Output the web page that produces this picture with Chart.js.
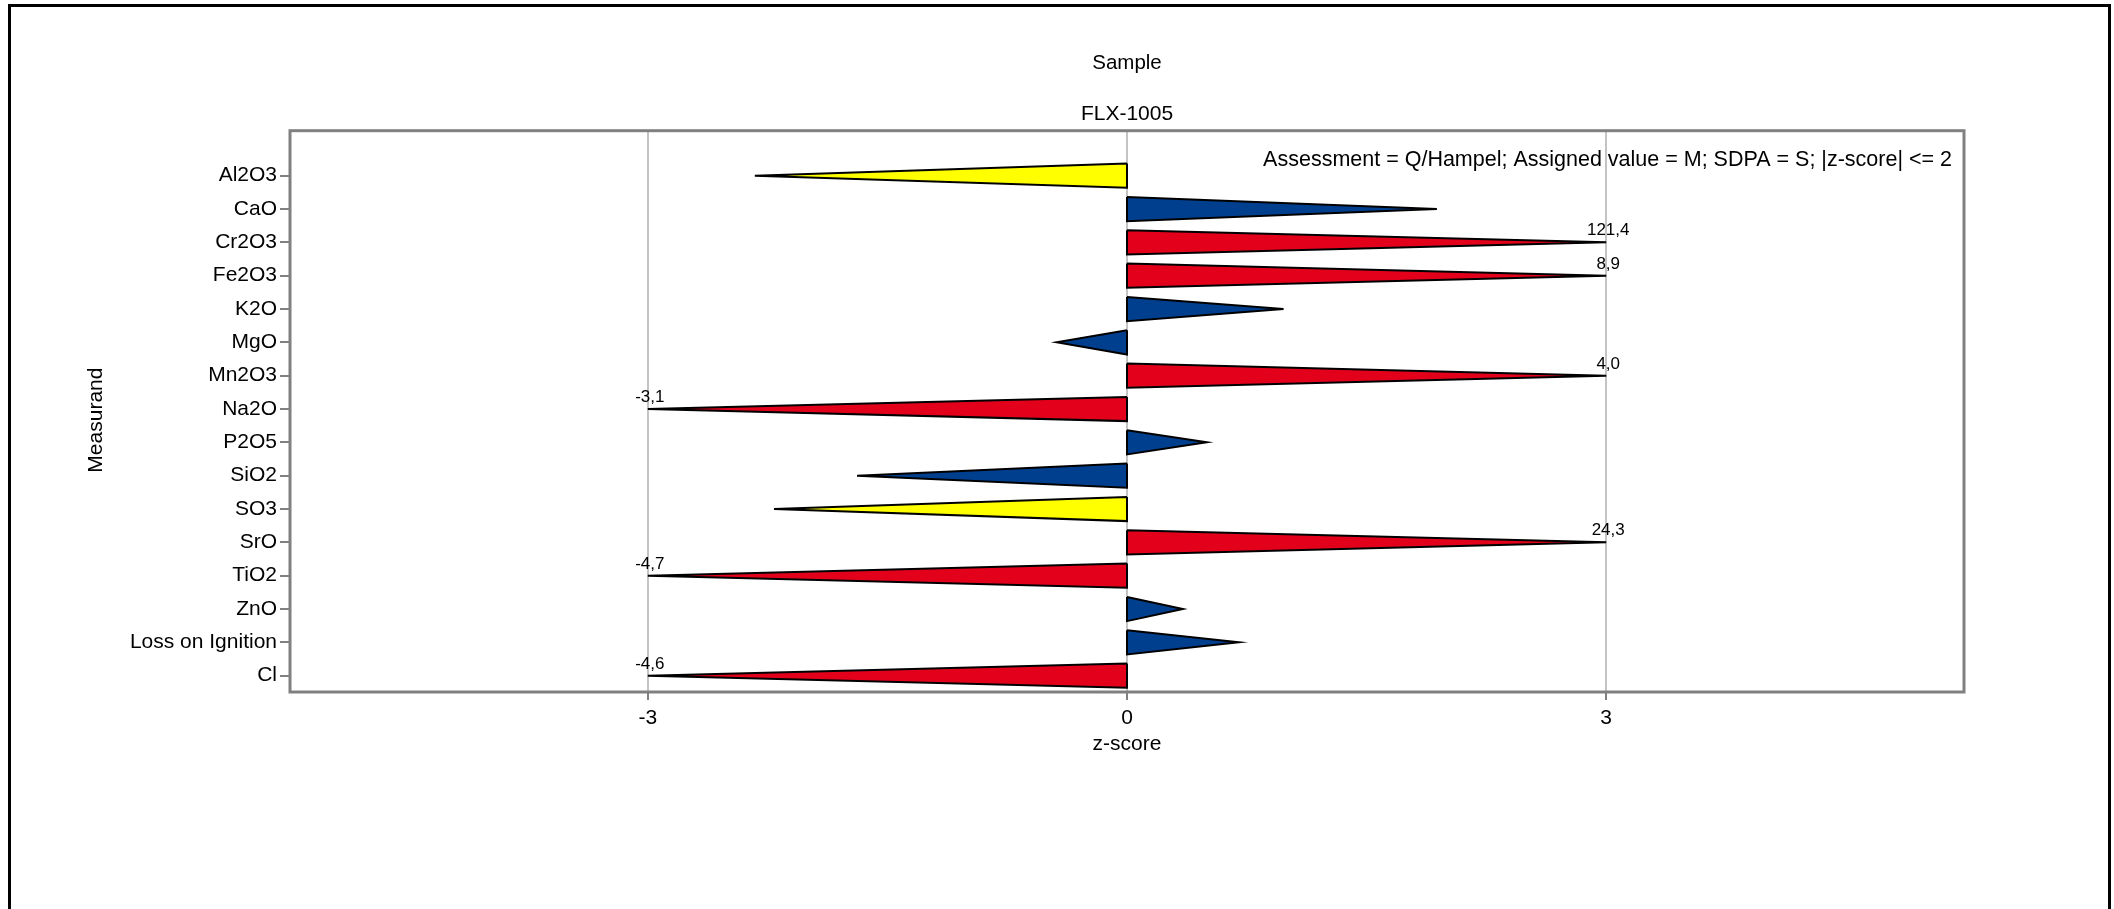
<!DOCTYPE html>
<html>
<head>
<meta charset="utf-8">
<script src="https://cdn.jsdelivr.net/npm/chart.js@4.4.0/dist/chart.umd.min.js"></script>
<style>
  html, body { margin: 0; padding: 0; background: #fff; overflow: hidden; }
  #frame { position: absolute; left: 8px; top: 4px; width: 2103px; height: 1000px; border: 3px solid #000; box-sizing: border-box; }
  #wrap { position: absolute; left: 0; top: 0; width: 2114px; height: 909px; }
</style>
</head>
<body>
<div id="frame"></div>
<div id="wrap"><canvas id="zChart" width="2114" height="909"></canvas></div>
<script>
// z-scores per measurand, sample FLX-1005
const measurands = ['Al2O3', 'CaO', 'Cr2O3', 'Fe2O3', 'K2O', 'MgO', 'Mn2O3', 'Na2O',
    'P2O5', 'SiO2', 'SO3', 'SrO', 'TiO2', 'ZnO', 'Loss on Ignition', 'Cl'];
const zScores = [-2.33, 1.94, 121.4, 8.9, 0.98, -0.44, 4.0, -3.1,
    0.50, -1.69, -2.21, 24.3, -4.7, 0.35, 0.70, -4.6];
const xTicks = [-3, 0, 3];
const zLimit = 3;      // bars beyond this are cut at the limit and labelled
const halfHeight = 0.363;

const fontFamily = '"Liberation Sans", Arial, sans-serif';
Chart.defaults.font.family = fontFamily;
Chart.defaults.font.size = 21;
Chart.defaults.color = '#000';

function zColor(z) {
    const a = Math.abs(z);
    if (a <= 2) return '#003f8e';
    if (a <= 3) return '#ffff00';
    return '#e2001a';
}

// one closed triangle per measurand, base on zero, tip at the (capped) z-score
const datasets = measurands.map((name, i) => {
    const v = Math.max(-zLimit, Math.min(zLimit, zScores[i]));
    return {
        label: name,
        data: [
            { x: 0, y: i - halfHeight },
            { x: v, y: i },
            { x: 0, y: i + halfHeight },
            { x: 0, y: i - halfHeight }
        ],
        showLine: true,
        fill: 'shape',
        backgroundColor: zColor(zScores[i]),
        borderColor: '#000',
        borderWidth: 2,
        pointRadius: 0,
        tension: 0
    };
});

const extrasPlugin = {
    id: 'extras',
    afterDraw(chart) {
        const { ctx, chartArea, scales: { x, y } } = chart;
        ctx.save();
        // value labels on the cut-off bars
        ctx.font = '17px ' + fontFamily;
        ctx.fillStyle = '#000';
        ctx.textAlign = 'center';
        ctx.textBaseline = 'alphabetic';
        zScores.forEach((z, i) => {
            if (Math.abs(z) <= zLimit) return;
            const v = z > 0 ? zLimit : -zLimit;
            ctx.fillText(z.toFixed(1).replace('.', ','), x.getPixelForValue(v) + 2, y.getPixelForValue(i) - 7);
        });
        // plot frame
        ctx.strokeStyle = '#808080';
        ctx.lineWidth = 3;
        ctx.strokeRect(chartArea.left, chartArea.top, chartArea.right - chartArea.left, chartArea.bottom - chartArea.top);
        // assessment note
        ctx.font = '21.5px ' + fontFamily;
        ctx.textAlign = 'right';
        ctx.fillText('Assessment = Q/Hampel; Assigned value = M; SDPA = S; |z-score| <= 2',
            chartArea.right - 12, chartArea.top + 35);
        ctx.restore();
    }
};

new Chart(document.getElementById('zChart'), {
    type: 'scatter',
    data: { datasets },
    plugins: [extrasPlugin],
    options: {
        responsive: false,
        animation: false,
        layout: { padding: { left: 0, right: 150, top: 0, bottom: 152 } },
        plugins: {
            legend: { display: false },
            tooltip: { enabled: false },
            title: {
                display: true, text: 'Sample', fullSize: false,
                font: { size: 20.5, weight: 'normal' }, color: '#000',
                padding: { top: 50.6, bottom: 0 }
            },
            subtitle: {
                display: true, text: 'FLX-1005', fullSize: false,
                font: { size: 21, weight: 'normal' }, color: '#000',
                padding: { top: 26.1, bottom: 4.2 }
            }
        },
        scales: {
            x: {
                type: 'linear',
                min: -5.24,
                max: 5.24,
                afterBuildTicks: axis => { axis.ticks = xTicks.map(v => ({ value: v })); },
                afterFit: scale => { scale.height = 65; },
                ticks: { padding: 6, callback: v => String(v) },
                grid: { color: '#c4c4c4', lineWidth: 2, tickColor: '#808080', tickLength: 8 },
                border: { display: false },
                title: { display: true, text: 'z-score', padding: { top: 0, bottom: 0 } }
            },
            y: {
                type: 'linear',
                reverse: true,
                min: -1.35,
                max: 15.49,
                afterBuildTicks: axis => { axis.ticks = measurands.map((m, i) => ({ value: i })); },
                afterFit: scale => { scale.width = 290; },
                ticks: { padding: 3, callback: v => measurands[v] },
                grid: { drawOnChartArea: false, tickColor: '#808080', tickLength: 10, lineWidth: 2 },
                border: { display: false },
                // trailing spaces push the rotated title a little below the axis centre, as in the original
                title: { display: true, text: 'Measurand   ', padding: { top: 84, bottom: 0 } }
            }
        }
    }
});
</script>
</body>
</html>
